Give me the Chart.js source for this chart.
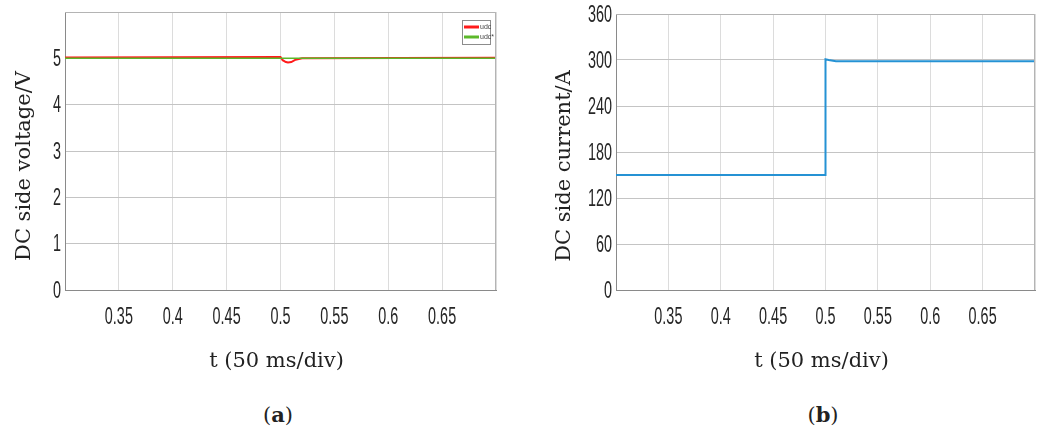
<!DOCTYPE html>
<html>
<head>
<meta charset="utf-8">
<script src="https://cdn.jsdelivr.net/npm/chart.js@4.4.1/dist/chart.umd.min.js"></script>
<style>
  html, body { margin: 0; padding: 0; background: #fff; }
  body { width: 1045px; height: 428px; position: relative; overflow: hidden; }
  .panel { position: absolute; top: 0; height: 390px; }
  .caption {
    position: absolute; top: 402px; width: 100px; text-align: center;
    font-family: "DejaVu Serif", serif; font-size: 21px; color: #222;
  }
</style>
</head>
<body>
<div class="panel" style="left:0;width:522px"><canvas id="voltageChart"></canvas></div>
<div class="panel" style="left:520px;width:525px"><canvas id="currentChart"></canvas></div>
<div class="caption" style="left:228px">(<b>a</b>)</div>
<div class="caption" style="left:773px">(<b>b</b>)</div>

<script>
// time axis (s)
const xTickValues = [0.35, 0.4, 0.45, 0.5, 0.55, 0.6, 0.65];
const xTickLabels = ["0.35", "0.4", "0.45", "0.5", "0.55", "0.6", "0.65"];

// (a) DC side voltage
const udcTime = [0.3, 0.5, 0.502, 0.505, 0.507, 0.51, 0.514, 0.52, 0.7];
const udcValues = [5.02, 5.03, 4.96, 4.92, 4.91, 4.92, 4.97, 5.0, 5.01];
const udcRefTime = [0.3, 0.7];
const udcRefValues = [5.0, 5.0];
const voltageTicks = [0, 1, 2, 3, 4, 5];

// (b) DC side current
const idcTime = [0.3, 0.5, 0.5, 0.503, 0.51, 0.7];
const idcValues = [150, 150, 301, 300, 298.5, 298.5];
const currentTicks = [0, 60, 120, 180, 240, 300, 360];

const toPoints = (xs, ys) => xs.map((x, i) => ({ x: x, y: ys[i] }));

// MATLAB-like axis text: condensed tick numbers, serif axis titles
const axisText = {
  id: "axisText",
  afterDraw(chart, args, opts) {
    const ctx = chart.ctx;
    const area = chart.chartArea;
    const xs = chart.scales.x;
    const ys = chart.scales.y;

    // box frame on top/right
    ctx.save();
    ctx.strokeStyle = "#b4b4b4";
    ctx.lineWidth = 1;
    ctx.beginPath();
    ctx.moveTo(area.left, area.top + 0.5);
    ctx.lineTo(area.right - 0.5, area.top + 0.5);
    ctx.lineTo(area.right - 0.5, area.bottom);
    ctx.stroke();
    ctx.restore();

    const squeezed = (text, x, y, align) => {
      ctx.save();
      ctx.translate(x, y);
      ctx.scale(0.6, 1);
      ctx.textAlign = align;
      ctx.textBaseline = "middle";
      ctx.fillText(text, 0, 0);
      ctx.restore();
    };

    ctx.save();
    ctx.fillStyle = "#262626";
    ctx.font = "24px 'Liberation Sans', Arial, sans-serif";
    opts.yTicks.forEach((v) => {
      squeezed(String(v), area.left - 4, ys.getPixelForValue(v) + 1, "right");
    });
    xTickValues.forEach((v, i) => {
      squeezed(xTickLabels[i], xs.getPixelForValue(v), area.bottom + 27, "center");
    });

    ctx.font = "21px 'DejaVu Serif', serif";
    ctx.fillStyle = "#222";
    ctx.textAlign = "center";
    ctx.textBaseline = "middle";
    ctx.fillText("t (50 ms/div)", (area.left + area.right) / 2 - 4, 362);

    ctx.translate(opts.yTitleX, opts.yTitleY);
    ctx.rotate(-Math.PI / 2);
    ctx.fillText(opts.yTitle, 0, 0);
    ctx.restore();
  },
};

// small boxed legend in the upper right corner
const boxLegend = {
  id: "boxLegend",
  afterDraw(chart, args, opts) {
    if (!opts.show) return;
    const ctx = chart.ctx;
    const area = chart.chartArea;
    const sets = chart.data.datasets;
    const w = 28, h = 24;
    const left = area.right - w - 6;
    const top = area.top + 8;
    ctx.save();
    ctx.fillStyle = "#fff";
    ctx.fillRect(left, top, w, h);
    ctx.strokeStyle = "#8c8c8c";
    ctx.lineWidth = 1;
    ctx.strokeRect(left + 0.5, top + 0.5, w, h);
    ctx.font = "7px 'Liberation Sans', sans-serif";
    ctx.textBaseline = "middle";
    sets.forEach((ds, i) => {
      const y = top + 7 + i * 10;
      ctx.strokeStyle = ds.borderColor;
      ctx.lineWidth = 3;
      ctx.beginPath();
      ctx.moveTo(left + 2, y);
      ctx.lineTo(left + 17, y);
      ctx.stroke();
      ctx.fillStyle = "#444";
      ctx.fillText(ds.label, left + 18, y);
    });
    ctx.restore();
  },
};

function makeChart(canvasId, datasets, yMax, yStep, yTicks, pad, yWidth, title, titleX) {
  return new Chart(document.getElementById(canvasId), {
    type: "line",
    data: { datasets: datasets },
    options: {
      animation: false,
      responsive: true,
      maintainAspectRatio: false,
      layout: { padding: pad },
      plugins: {
        legend: { display: false },
        tooltip: { enabled: false },
        axisText: { yTicks: yTicks, yTitle: title, yTitleX: titleX, yTitleY: 166 },
        boxLegend: { show: datasets.length > 1 },
      },
      scales: {
        x: {
          type: "linear",
          min: 0.3,
          max: 0.7,
          ticks: { display: false, stepSize: 0.05 },
          grid: { color: "#dcdcdc", drawTicks: false },
          border: { color: "#8a8a8a" },
          afterFit: (scale) => { scale.height = 100; },
        },
        y: {
          min: 0,
          max: yMax,
          ticks: { display: false, stepSize: yStep },
          grid: { color: "#c4c4c4", drawTicks: false },
          border: { color: "#8a8a8a" },
          afterFit: (scale) => { scale.width = yWidth; },
        },
      },
    },
    plugins: [axisText, boxLegend],
  });
}

makeChart(
  "voltageChart",
  [
    {
      label: "udc",
      data: toPoints(udcTime, udcValues),
      borderColor: "#ff1a1a",
      borderWidth: 2,
      pointRadius: 0,
      tension: 0,
      order: 1,
    },
    {
      // reference drawn over the measured voltage
      label: "udc*",
      data: toPoints(udcRefTime, udcRefValues),
      borderColor: "#5cb82a",
      borderWidth: 1.5,
      pointRadius: 0,
      tension: 0,
      order: 0,
    },
  ],
  6, 1, voltageTicks,
  { left: 0, top: 12, right: 26, bottom: 0 },
  65, "DC side voltage/V", 25
);

makeChart(
  "currentChart",
  [
    {
      label: "idc",
      data: toPoints(idcTime, idcValues),
      borderColor: "#2592d4",
      borderWidth: 2,
      pointRadius: 0,
      tension: 0,
    },
  ],
  360, 60, currentTicks,
  { left: 0, top: 14, right: 10, bottom: 0 },
  96, "DC side current/A", 45
);
</script>
</body>
</html>
